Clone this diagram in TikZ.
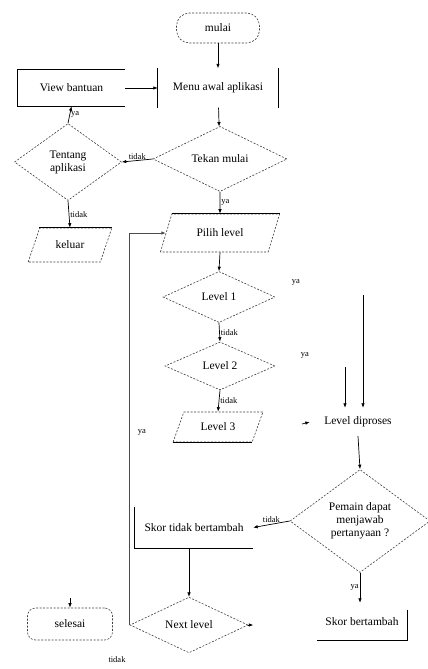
\documentclass[tikz,border=0pt]{standalone}
\usepackage{fontspec}
\setmainfont{Liberation Serif}
\usetikzlibrary{shapes.geometric,arrows.meta}
\begin{document}
\begin{tikzpicture}[x=1pt,y=-1pt, font=\fontsize{11.5}{13}\selectfont,
 dsh/.style={draw=black!75, dash pattern=on 2pt off 1.5pt, line width=0.6pt},
 term/.style={dsh, rounded corners=13pt, minimum width=83pt, minimum height=30pt, inner sep=1pt},
 dec/.style={dsh, diamond, inner sep=0pt, align=center},
 io/.style={dsh, trapezium, trapezium left angle=60, trapezium right angle=120, trapezium stretches=true, inner sep=1pt},
 plain/.style={inner sep=0pt, align=center},
 arr/.style={-{Latex[length=4.5pt,width=3.5pt]}, line width=0.7pt},
 side/.style={line width=1.2pt},
 lbl/.style={font=\fontsize{8.5}{9}\selectfont, inner sep=1pt}]
\fill[white] (0,0) rectangle (428,669);
\useasboundingbox (0,0) rectangle (428,669);

\node[term] (mulai) at (218,28) {mulai};
\node[plain, minimum width=120pt, minimum height=39pt] (menu) at (218,88) {Menu awal aplikasi};
\draw[side] (menu.north west) -- (menu.south west);
\draw[side] (menu.north east) -- (menu.south east);
\node[plain, minimum width=107pt, minimum height=36pt] (view) at (71.5,88) {View bantuan};
\draw[side] (view.north east) -- (view.north west) -- (view.south west) -- (view.south east);
\node[dec, minimum width=107pt, minimum height=77pt] (tentang) at (68,162) {Tentang\\aplikasi};
\node[dec, minimum width=134pt, minimum height=62pt] (tekan) at (220,159) {Tekan mulai};
\node[io, minimum width=120pt, minimum height=38pt] (pilih) at (220,233) {Pilih level};
\draw[side] (pilih.top left corner) -- (pilih.top right corner);
\node[io, minimum width=84pt, minimum height=34pt] (keluar) at (70,245) {keluar};
\draw[side] (keluar.top left corner) -- (keluar.top right corner);
\node[dec, minimum width=112pt, minimum height=51pt] (l1) at (219,297) {Level 1};
\node[dec, minimum width=110pt, minimum height=48pt] (l2) at (220,366) {Level 2};
\node[io, minimum width=90pt, minimum height=30pt] (l3) at (218,427) {Level 3};
\draw[side] (l3.bottom left corner) -- (l3.bottom right corner);
\node[plain, minimum width=96pt, minimum height=28pt] (proses) at (358,422) {Level diproses};
\node[dec, minimum width=140pt, minimum height=103pt] (pemain) at (360,521) {Pemain dapat\\menjawab\\pertanyaan ?};
\node[plain, minimum width=118pt, minimum height=41pt] (stidak) at (194,527.5) {Skor tidak bertambah};
\draw[side] (stidak.north west) -- (stidak.south west) -- (stidak.south east);
\node[plain, minimum width=90pt, minimum height=37pt] (sya) at (362,621.5) {Skor bertambah};
\draw[side] ([yshift=-7pt]sya.north east) -- (sya.south east) -- (sya.south west);
\node[dec, minimum width=118pt, minimum height=45pt] (next) at (189,625) {Next level};
\node[term, minimum width=85pt, minimum height=32pt, rounded corners=8pt] (selesai) at (70,624) {selesai};

\draw[arr] (mulai) -- (menu);
\draw[arr] (view.east) -- (menu.west);
\draw[arr] (tentang.north) -- node[lbl, right]{ya} (view.south);
\draw[arr] (tekan.west) -- node[lbl, above]{tidak} (tentang.east);
\draw[arr] (menu) -- (tekan);
\draw[arr] (tekan.south) -- node[lbl, right]{ya} (pilih.north);
\draw[arr] (tentang.south) -- node[lbl, right]{tidak} (keluar.north);
\draw[arr] (pilih.south) -- (l1.north);
\draw[arr] (l1.south) -- node[lbl, right]{tidak} (l2.north);
\draw[arr] (l2.south) -- node[lbl, right]{tidak} (l3.north);

\node[lbl] (ya1) at (296,282) {ya};
\node[lbl] (ya2) at (305,355) {ya};
\coordinate (a1) at (363,295);
\coordinate (a2) at (345,367);
\coordinate (a3) at (302,424);
\draw[arr] (a1) -- (a1 |- proses.north);
\draw[arr] (a2) -- (a2 |- proses.north);
\draw[arr] (a3) -- (proses.west);
\draw[arr] (proses.south) -- (pemain.north);
\draw[arr] (pemain.west) -- node[lbl, above]{tidak} (stidak.east);
\draw[arr] (pemain.south) -- node[lbl, left]{ya} (pemain.south |- sya.north);
\draw[arr] (stidak.south -| next.north) -- (next.north);
\draw[arr, line width=0.9pt, draw=black!70] (next.west) -- (next.west |- pilih.west) -- (pilih.west);
\node[lbl] (yaloop) at (142,432) {ya};
\node[lbl] (tdknext) at (117,660) {tidak};
\draw[arr] (next.east) -- ++(5,0);
\coordinate (s0) at (70,598);
\draw[arr] (s0) -- (selesai.north);
\end{tikzpicture}
\end{document}
